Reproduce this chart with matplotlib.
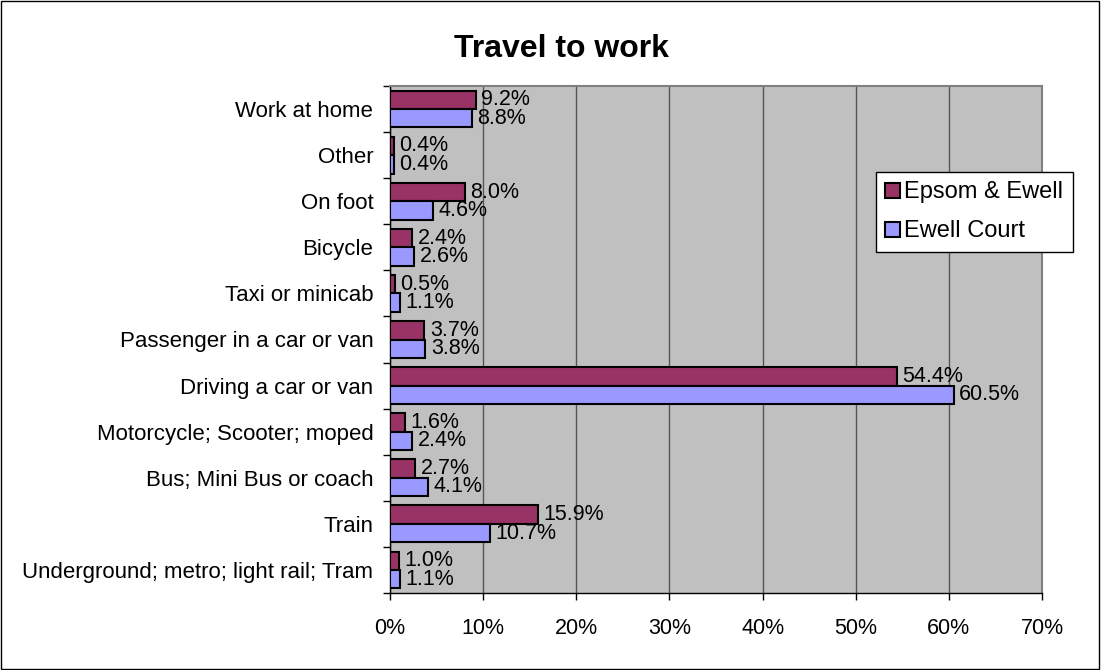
import matplotlib
matplotlib.use("Agg")
import matplotlib.pyplot as plt
import numpy as np

plt.rcParams['font.family'] = ['Liberation Sans', 'DejaVu Sans']

categories = ["Underground; metro; light rail; Tram", "Train", "Bus; Mini Bus or coach",
              "Motorcycle; Scooter; moped", "Driving a car or van", "Passenger in a car or van",
              "Taxi or minicab", "Bicycle", "On foot", "Other", "Work at home"]
epsom = [1.0, 15.9, 2.7, 1.6, 54.4, 3.7, 0.5, 2.4, 8.0, 0.4, 9.2]
ewell = [1.1, 10.7, 4.1, 2.4, 60.5, 3.8, 1.1, 2.6, 4.6, 0.4, 8.8]
series_names = ["Epsom & Ewell", "Ewell Court"]
xticks = [0, 10, 20, 30, 40, 50, 60, 70]

FS = 15.5

fig = plt.figure(figsize=(11.01, 6.70), dpi=100)
fig.patch.set_facecolor('white')
fig.add_artist(plt.Rectangle((0.0005, 0.001), 0.998, 0.997, transform=fig.transFigure,
                             fill=False, edgecolor='black', linewidth=1))

ax = fig.add_axes([390/1101, 1-593/670, 652/1101, 507/670])
ax.set_facecolor('#C0C0C0')

y = np.arange(len(categories))
h = 0.4
b1 = ax.barh(y + h/2, epsom, height=h, color='#993366', edgecolor='black', linewidth=1.5, label=series_names[0], zorder=3)
b2 = ax.barh(y - h/2, ewell, height=h, color='#9999FF', edgecolor='black', linewidth=1.5, label=series_names[1], zorder=3)

for yy, v in zip(y + h/2, epsom):
    ax.annotate(f"{v:.1f}%", (v, yy), xytext=(4, 0), textcoords='offset points',
                va='center', ha='left', fontsize=FS, zorder=4)
for yy, v in zip(y - h/2, ewell):
    ax.annotate(f"{v:.1f}%", (v, yy), xytext=(4, 0), textcoords='offset points',
                va='center', ha='left', fontsize=FS, zorder=4)

ax.set_xlim(0, 70)
ax.set_ylim(-0.5, len(categories) - 0.5)
ax.set_xticks(xticks)
ax.set_xticklabels([f"{t}%" for t in xticks], fontsize=FS)
ax.set_yticks(y)
ax.set_yticklabels(categories, fontsize=16)
ax.set_yticks(np.arange(-0.5, len(categories), 1.0), minor=True)
ax.tick_params(axis='y', which='major', length=0, pad=12)
ax.tick_params(axis='y', which='minor', length=5, width=1, direction='out')
ax.tick_params(axis='x', length=5, width=1, direction='out', pad=13)
ax.xaxis.grid(True, color='#555555', linewidth=1, zorder=0)
ax.set_axisbelow(True)
for s in ['top', 'right']:
    ax.spines[s].set_color('#808080')
    ax.spines[s].set_linewidth(1.5)
for s in ['left', 'bottom']:
    ax.spines[s].set_color('black')
    ax.spines[s].set_linewidth(1)

fig.text(561/1101, 1 - 49/670, "Travel to work", ha='center', va='center',
         fontsize=23, fontweight='bold')

leg = ax.legend(handles=[b1, b2], loc='upper left', bbox_to_anchor=(876/1101, 1-172/670),
                bbox_transform=fig.transFigure, fontsize=17, frameon=True, fancybox=False,
                edgecolor='black', framealpha=1, handlelength=0.6, handleheight=0.6,
                handletextpad=0.2, labelspacing=0.72, borderpad=0.4, borderaxespad=0)
leg.get_frame().set_linewidth(1)

fig.savefig("out.png", dpi=100)
